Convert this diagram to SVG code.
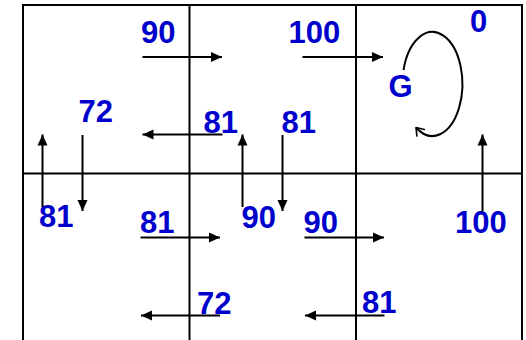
<svg xmlns="http://www.w3.org/2000/svg" width="526" height="340" viewBox="0 0 526 340">
<style>
.grid{stroke:#000;stroke-width:2;fill:none}
.v{font-family:"Liberation Sans",Arial,sans-serif;font-weight:bold;font-size:31px;fill:#0000CC}
.a{stroke:#000;stroke-width:2;fill:none;marker-end:url(#ah)}
</style>
<defs>
<marker id="ah" markerUnits="userSpaceOnUse" markerWidth="12" markerHeight="12" refX="11" refY="6" orient="auto">
<path d="M0,1 L11,6 L0,11 Z" fill="#000"/>
</marker>
<marker id="ah2" markerUnits="userSpaceOnUse" markerWidth="14" markerHeight="14" refX="9" refY="7" orient="auto">
<path d="M2,2 L9,7 L2,12" fill="none" stroke="#000" stroke-width="1.6" stroke-linecap="round" stroke-linejoin="round"/>
</marker>
</defs>
<rect width="526" height="340" fill="#fff"/>
<g id="grid">
<path class="grid" d="M23,342 V5 H522 V342 M189.5,5 V342 M356,5 V342 M23,173.5 H522"/>
</g>
<g id="cell-1-1"><text class="v" x="141" y="42.5">90</text><text class="v" x="78.5" y="121.5">72</text></g>
<g id="cell-1-2"><text class="v" x="288.5" y="42.5">100</text><text class="v" x="203.5" y="133">81</text><text class="v" x="281.5" y="132.5">81</text></g>
<g id="cell-1-3"><text class="v" x="470" y="31.5">0</text><text class="v" x="388.5" y="97">G</text></g>
<g id="cell-2-1"><text class="v" x="39" y="227">81</text><text class="v" x="140" y="233">81</text></g>
<g id="cell-2-2"><text class="v" x="241.5" y="227.5">90</text><text class="v" x="197" y="313.5">72</text><text class="v" x="303.5" y="233">90</text></g>
<g id="cell-2-3"><text class="v" x="455" y="233">100</text><text class="v" x="362" y="313">81</text></g>
<g id="connectors">
<line class="a" x1="142.5" y1="57" x2="222" y2="57"/>
<line class="a" x1="302.5" y1="57" x2="383" y2="57"/>
<line class="a" x1="222.5" y1="134.5" x2="142.5" y2="134.5"/>
<line class="a" x1="220" y1="315.5" x2="141" y2="315.5"/>
<line class="a" x1="384.5" y1="315.5" x2="305" y2="315.5"/>
<line class="a" x1="140.5" y1="237.5" x2="220" y2="237.5"/>
<line class="a" x1="304.5" y1="237.5" x2="384" y2="237.5"/>
<line class="a" x1="42.5" y1="207" x2="42.5" y2="134.5"/>
<line class="a" x1="82.5" y1="135" x2="82.5" y2="211"/>
<line class="a" x1="242.5" y1="207" x2="242.5" y2="134.5"/>
<line class="a" x1="282.5" y1="135" x2="282.5" y2="211"/>
<line class="a" x1="482.5" y1="211.5" x2="482.5" y2="134.5"/>
<path d="M403.5,70 A30,52 0 1 1 416,127.5" stroke="#000" stroke-width="2" fill="none" marker-end="url(#ah2)"/>
</g>
</svg>
